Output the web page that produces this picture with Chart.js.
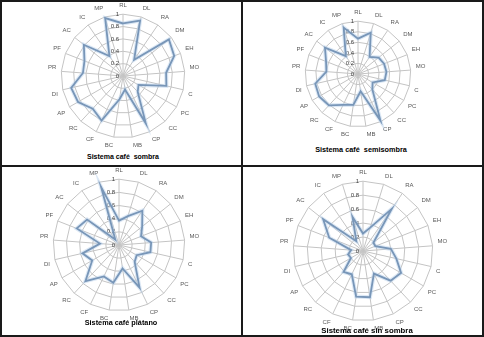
<!DOCTYPE html>
<html><head><meta charset="utf-8">
<script src="https://cdn.jsdelivr.net/npm/chart.js@4"></script>
<style>
html,body{margin:0;padding:0;background:#fff;}
#wrap{position:relative;width:484px;height:337px;overflow:hidden;background:#fff;font-family:"Liberation Sans",Arial,sans-serif;}
canvas{position:absolute;}
.ttl{position:absolute;font-weight:bold;color:#000;white-space:pre;transform:translateX(-50%);line-height:1;}
.ln{position:absolute;background:#1a1a1a;z-index:5;}
</style></head>
<body>
<div id="wrap">
  <canvas id="c1" width="200" height="148" style="left:23px;top:2px"></canvas>
  <canvas id="c2" width="180" height="130" style="left:268px;top:9px"></canvas>
  <canvas id="c3" width="200" height="156" style="left:19px;top:167px"></canvas>
  <canvas id="c4" width="200" height="164" style="left:263px;top:169px"></canvas>
  <div class="ttl" style="left:123px;top:153px;font-size:7px">Sistema café  sombra</div>
  <div class="ttl" style="left:361px;top:146px;font-size:7.3px">Sistema café  semisombra</div>
  <div class="ttl" style="left:121px;top:319px;font-size:7.3px">Sistema café plátano</div>
  <div class="ttl" style="left:367px;top:327px;font-size:7.8px">Sistema café sin sombra</div>
  <div class="ln" style="left:0;top:0;width:484px;height:2px"></div>
  <div class="ln" style="left:0;top:335px;width:484px;height:2px"></div>
  <div class="ln" style="left:0;top:0;width:2px;height:337px"></div>
  <div class="ln" style="left:482px;top:0;width:2px;height:337px"></div>
  <div class="ln" style="left:241px;top:0;width:2px;height:337px"></div>
  <div class="ln" style="left:0;top:165px;width:484px;height:2px"></div>
</div>
<script>
const categories = ['RL','DL','RA','DM','EH','MO','C','PC','CC','CP','MB','BC','CF','RC','AP','DI','PR','PF','AC','IC','MP'];
const tickValues = [0, 0.2, 0.4, 0.6, 0.8, 1];
const tickLabels = ['0','0.2','0.4','0.6','0.8','1'];
const sombra     = [0.85,0.94,0.32,0.95,0.89,0.70,0.72,0.29,0.35,0.85,0.22,0.38,0.80,0.72,0.84,0.86,0.65,0.67,0.81,0.39,0.98];
const semisombra = [0.67,0.82,0.39,0.50,0.53,0.54,0.52,0.32,0.40,0.98,0.33,0.59,0.65,0.81,0.85,0.83,0.60,0.65,0.80,0.41,0.92];
const platano    = [0.37,0.46,0.63,0.45,0.36,0.49,0.49,0.31,0.35,0.72,0.36,0.58,0.53,0.75,0.47,0.57,0.29,0.69,0.62,0.10,0.92];
const sinSombra  = [0.25,0.35,0.73,0.19,0.19,0.40,0.49,0.63,0.58,0.36,0.67,0.66,0.37,0.41,0.20,0.22,0.17,0.52,0.73,0.17,0.51];

const FONT = '"Liberation Sans", Arial, sans-serif';

const tickPlugin = {
  id: 'leftTicks',
  beforeDatasetsDraw(chart) {
    const s = chart.scales.r, ctx = chart.ctx;
    ctx.save();
    ctx.font = '6px ' + FONT;
    ctx.fillStyle = '#404040';
    ctx.textAlign = 'right';
    ctx.textBaseline = 'middle';
    tickValues.forEach((v, i) => {
      const y = s.yCenter - s.getDistanceFromCenterForValue(v);
      ctx.fillText(tickLabels[i], s.xCenter - 4, y);
    });
    ctx.restore();
  }
};

function make(id, data) {
  new Chart(document.getElementById(id), {
    type: 'radar',
    data: {
      labels: categories,
      datasets: [
        { data: data, borderColor: 'rgba(185,210,235,0.5)', borderWidth: 4, pointRadius: 0, fill: false },
        { data: data, borderColor: '#365a84', borderWidth: 1.8, pointRadius: 0, fill: false }
      ]
    },
    options: {
      responsive: false,
      animation: false,
      devicePixelRatio: 1,
      layout: { padding: 0 },
      plugins: { legend: { display: false }, tooltip: { enabled: false } },
      elements: { line: { tension: 0 } },
      scales: {
        r: {
          min: 0, max: 1,
          ticks: { display: false, stepSize: 0.2 },
          grid: { color: '#c4c4c4', lineWidth: 1 },
          angleLines: { color: '#c4c4c4', lineWidth: 1 },
          pointLabels: { font: { size: 6, family: FONT }, color: '#595959', padding: 5 }
        }
      }
    },
    plugins: [tickPlugin]
  });
}
make('c1', sombra);
make('c2', semisombra);
make('c3', platano);
make('c4', sinSombra);
</script>
</body></html>
